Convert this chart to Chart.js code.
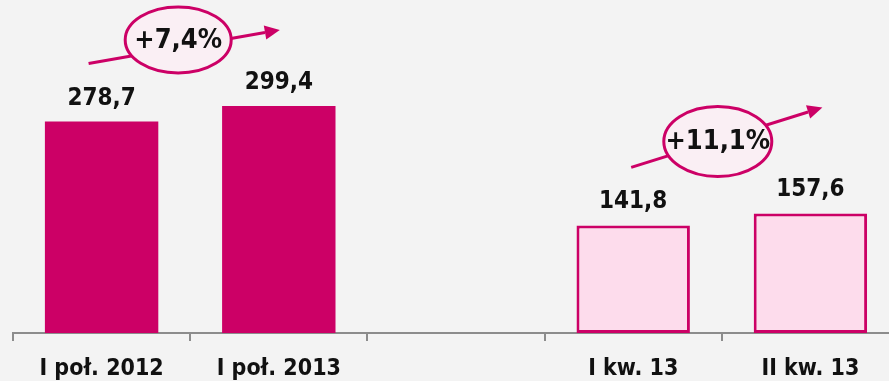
<!DOCTYPE html>
<html>
<head>
<meta charset="utf-8">
<script src="https://cdn.jsdelivr.net/npm/chart.js@4/dist/chart.umd.min.js"></script>
<style>
  html, body { margin: 0; padding: 0; background: #F3F3F3; overflow: hidden; }
  #wrap { width: 899px; height: 381px; }
</style>
</head>
<body>
<div id="wrap"><canvas id="c" width="899" height="381"></canvas></div>
<script>
const categories = ["I poł. 2012", "I poł. 2013", "", "I kw. 13", "II kw. 13"];
const values = [278.7, 299.4, null, 141.8, 157.6];
const valueLabels = ["278,7", "299,4", "", "141,8", "157,6"];
const growthLabels = ["+7,4%", "+11,1%"];
const growthPairs = [[0, 1], [3, 4]];

const MAGENTA = "#CC0066";
const LIGHT = "#FDDCEC";
const FONT = '"DejaVu Sans Condensed", "DejaVu Sans", sans-serif';

// decorative annotation geometry (pixel offsets relative to bars)
const annoGeom = [
  { sx: -13, sy: -58, ex: 1, ey: -76, cx: -12, cy: -66, rx: 53, ry: 33 },
  { sx: -2, sy: -58, ex: 12, ey: -106, cx: -4, cy: -72, rx: 54, ry: 35 }
];

const labelPlugin = {
  id: "labels",
  afterDatasetsDraw(chart) {
    const ctx = chart.ctx;
    const meta = chart.getDatasetMeta(0);
    ctx.save();
    ctx.font = "bold 24px " + FONT;
    ctx.fillStyle = "#111";
    ctx.textAlign = "center";
    ctx.textBaseline = "alphabetic";
    meta.data.forEach((bar, i) => {
      if (values[i] == null) return;
      ctx.fillText(valueLabels[i], bar.x, bar.y - 17);
    });
    // growth annotations
    growthPairs.forEach((p, k) => {
      const a = meta.data[p[0]], b = meta.data[p[1]];
      const g = annoGeom[k];
      const x0 = a.x + g.sx, y0 = a.y + g.sy;
      const x1 = b.x + g.ex, y1 = b.y + g.ey;
      const cx = (a.x + b.x) / 2 + g.cx, cy = b.y + g.cy;
      ctx.strokeStyle = MAGENTA;
      ctx.fillStyle = MAGENTA;
      ctx.lineWidth = 3;
      const ang = Math.atan2(y1 - y0, x1 - x0);
      const hl = 15, hw = 7;
      const bx = x1 - hl * Math.cos(ang), by = y1 - hl * Math.sin(ang);
      ctx.beginPath();
      ctx.moveTo(x0, y0);
      ctx.lineTo(bx, by);
      ctx.stroke();
      ctx.beginPath();
      ctx.moveTo(x1, y1);
      ctx.lineTo(bx + hw * Math.sin(ang), by - hw * Math.cos(ang));
      ctx.lineTo(bx - hw * Math.sin(ang), by + hw * Math.cos(ang));
      ctx.closePath();
      ctx.fill();
      ctx.beginPath();
      ctx.ellipse(cx, cy, g.rx, g.ry, 0, 0, Math.PI * 2);
      ctx.fillStyle = "#FAEFF4";
      ctx.fill();
      ctx.stroke();
      ctx.fillStyle = "#111";
      ctx.font = "bold 27px " + FONT;
      ctx.textBaseline = "middle";
      ctx.fillText(growthLabels[k], cx, cy + 1);
      ctx.textBaseline = "alphabetic";
    });
    ctx.restore();
  }
};

new Chart(document.getElementById("c"), {
  type: "bar",
  data: {
    labels: categories,
    datasets: [{
      data: values,
      backgroundColor: [MAGENTA, MAGENTA, MAGENTA, LIGHT, LIGHT],
      borderColor: MAGENTA,
      borderWidth: [0, 0, 0, 3, 3],
      borderSkipped: false,
      barPercentage: 0.64,
      categoryPercentage: 1.0
    }]
  },
  options: {
    responsive: false,
    animation: false,
    events: [],
    layout: { padding: { left: 13, right: 0, top: 0, bottom: 0 } },
    plugins: { legend: { display: false }, tooltip: { enabled: false } },
    scales: {
      y: { display: false, min: 0, max: 439 },
      x: {
        offset: true,
        afterFit(scale) { scale.height = 48; },
        grid: { display: true, drawOnChartArea: false, drawTicks: true, tickLength: 8, color: "#8C8C8C", lineWidth: 2, offset: true },
        border: { display: true, color: "#8C8C8C", width: 2 },
        ticks: { color: "#111", font: { family: FONT, size: 23, weight: "bold" }, padding: 14, maxRotation: 0, autoSkip: false }
      }
    }
  },
  plugins: [labelPlugin]
});
</script>
</body>
</html>
